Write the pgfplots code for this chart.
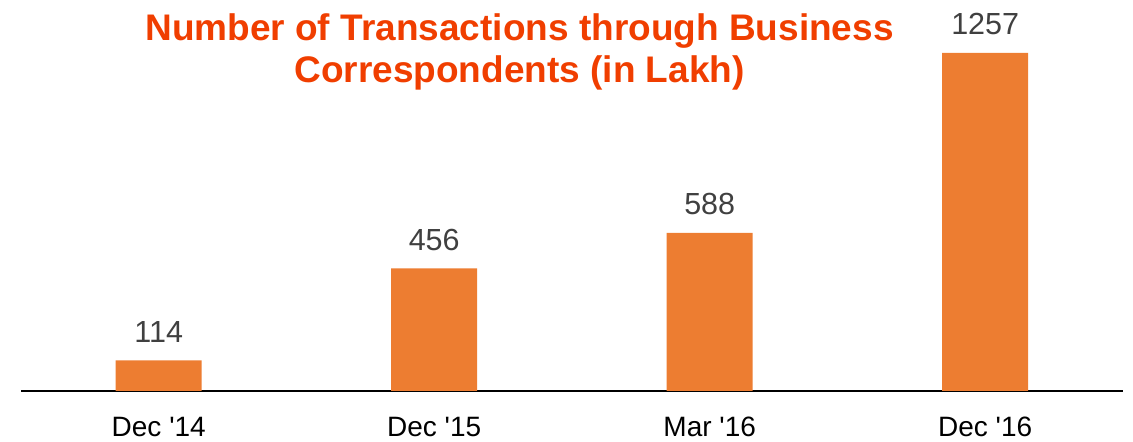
\documentclass[border=0pt]{standalone}
\usepackage{fontspec}
\setmainfont{Liberation Sans}
\usepackage{pgfplots}
\pgfplotsset{compat=1.18}
\definecolor{barorange}{HTML}{ED7D31}
\definecolor{titleorange}{RGB}{240,62,0}
\definecolor{valgray}{HTML}{404040}
\begin{document}
\begin{tikzpicture}
\path[use as bounding box] (0,0) rectangle (1133bp,442bp);
\begin{axis}[
  at={(21bp,51bp)}, anchor=south west,
  scale only axis,
  width=1102bp, height=338bp,
  xmin=-0.5, xmax=3.5,
  ymin=0, ymax=1257,
  axis x line=bottom,
  axis y line=none,
  x axis line style={-, black, line width=1.6bp},
  xtick=data,
  xticklabels={Dec \textquotesingle14, Dec \textquotesingle15, Mar \textquotesingle16, Dec \textquotesingle16},
  major tick length=0pt,
  xticklabel style={anchor=base, yshift=-45bp, font=\fontsize{28bp}{32bp}\selectfont, text=black},
  ybar,
  bar width=86bp,
  nodes near coords,
  nodes near coords style={/pgf/number format/assume math mode=true, /pgf/number format/1000 sep={}},
  every node near coord/.append style={anchor=base, yshift=18bp, font=\fontsize{30.5bp}{34bp}\selectfont, text=valgray},
  clip=false,
]
\addplot[fill=barorange, draw=none] coordinates {(0,114) (1,456) (2,588) (3,1257)};
\end{axis}
\node[anchor=base, text=titleorange, font=\fontsize{37bp}{40bp}\selectfont\bfseries, inner sep=0pt] at (519.5bp,401bp) {Number of Transactions through Business};
\node[anchor=base, text=titleorange, font=\fontsize{37bp}{40bp}\selectfont\bfseries, inner sep=0pt] at (519.5bp,359bp) {Correspondents (in Lakh)};
\end{tikzpicture}
\end{document}
